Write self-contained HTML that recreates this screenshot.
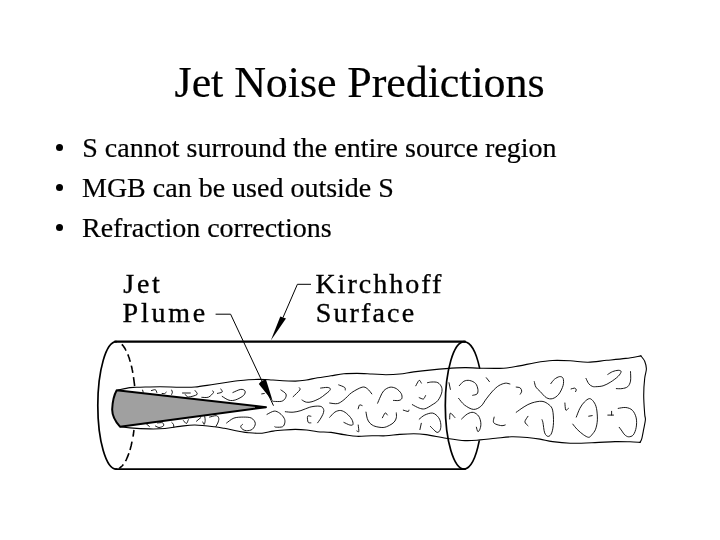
<!DOCTYPE html>
<html><head><meta charset="utf-8">
<style>
html,body{margin:0;padding:0;background:#fff;}
body{filter:grayscale(1);}
body{width:720px;height:540px;position:relative;overflow:hidden;font-family:"Liberation Serif",serif;color:#000;}
.t{position:absolute;white-space:nowrap;line-height:1;-webkit-text-stroke:0.2px #000;}
#title{left:174.6px;top:61.3px;font-size:44px;letter-spacing:-0.08px;}
.b{font-size:28px;}
.dot{position:absolute;width:7.2px;height:7.2px;border-radius:50%;background:#000;}
.lab{position:absolute;white-space:nowrap;line-height:1;font-size:28px;letter-spacing:2.4px;-webkit-text-stroke:0.35px #000;}
svg{position:absolute;left:0;top:0;}
</style></head>
<body>
<div class="t" id="title">Jet Noise Predictions</div>
<div class="dot" style="left:55.9px;top:143.7px"></div>
<div class="t b" style="left:82.3px;top:133.6px">S cannot surround the entire source region</div>
<div class="dot" style="left:55.9px;top:183.9px"></div>
<div class="t b" style="left:82px;top:174.2px">MGB can be used outside S</div>
<div class="dot" style="left:55.9px;top:223.9px"></div>
<div class="t b" style="left:82px;top:214.4px">Refraction corrections</div>

<div class="lab" style="left:123.3px;top:269.6px;letter-spacing:2.7px">Jet</div>
<div class="lab" style="left:122.6px;top:298.9px;letter-spacing:2.75px">Plume</div>
<div class="lab" style="left:315.4px;top:270px;letter-spacing:2.0px">Kirchhoff</div>
<div class="lab" style="left:315.7px;top:298.7px;letter-spacing:2.15px">Surface</div>

<svg width="720" height="540" viewBox="0 0 720 540">
<g fill="none" stroke="#000" stroke-linecap="round" stroke-linejoin="round">
<path stroke-width="1.1" d="M118.0,390.0 C120.0,389.6 126.3,388.1 130.0,387.6 C133.7,387.1 135.0,387.3 140.0,387.2 C145.0,387.1 153.3,386.8 160.0,386.8 C166.7,386.8 174.2,387.2 180.0,387.2 C185.8,387.2 189.3,387.5 195.0,387.0 C200.7,386.5 207.9,385.1 214.4,384.2 C220.9,383.2 228.2,382.1 233.9,381.3 C239.6,380.6 243.2,380.0 248.4,379.7 C253.6,379.4 260.9,379.4 265.0,379.5 C269.1,379.6 267.9,379.7 273.0,380.0 C278.1,380.3 289.7,381.1 295.3,381.1 C300.9,381.1 302.7,380.6 306.4,380.0 C310.1,379.4 313.5,378.5 317.6,377.8 C321.7,377.1 326.6,376.5 331.0,375.8 C335.4,375.1 339.6,374.2 343.9,373.8 C348.2,373.4 352.2,373.4 356.9,373.4 C361.6,373.4 367.2,373.8 372.0,374.0 C376.8,374.2 381.3,374.7 385.9,374.7 C390.5,374.7 395.2,374.5 399.8,374.0 C404.4,373.5 408.3,372.6 413.7,371.9 C419.1,371.2 426.6,370.4 432.0,369.9 C437.4,369.3 440.5,369.0 446.0,368.6 C451.5,368.2 459.3,367.7 465.0,367.6 C470.7,367.5 473.6,368.1 480.0,368.2 C486.4,368.3 497.0,368.6 503.6,368.2 C510.2,367.8 514.1,366.8 519.4,365.9 C524.6,365.0 529.6,363.6 535.1,362.7 C540.6,361.8 546.8,360.8 552.6,360.5 C558.5,360.2 564.3,360.5 570.2,360.8 C576.1,361.1 581.9,362.3 588.0,362.2 C594.1,362.1 600.6,360.9 606.9,360.3 C613.2,359.7 620.1,359.1 625.8,358.4 C631.5,357.7 638.4,356.3 640.9,355.9"/>
<path stroke-width="1.1" d="M120.0,426.7 C121.7,426.9 125.0,427.5 130.0,427.9 C135.0,428.3 144.2,428.8 150.0,428.9 C155.8,429.0 160.0,428.9 165.0,428.5 C170.0,428.1 175.0,427.0 180.0,426.4 C185.0,425.8 189.3,424.9 195.0,425.0 C200.7,425.1 209.5,426.2 214.4,426.8 C219.3,427.4 220.1,427.6 224.2,428.3 C228.2,429.0 234.7,430.5 238.7,431.2 C242.7,431.9 244.5,432.4 248.4,432.7 C252.3,433.0 257.9,433.5 262.0,433.2 C266.1,432.9 269.4,431.6 273.1,431.1 C276.8,430.6 280.5,430.3 284.2,430.0 C287.9,429.7 291.6,429.4 295.3,429.4 C299.0,429.4 302.7,429.6 306.4,430.0 C310.1,430.4 313.5,431.3 317.6,431.7 C321.7,432.1 326.6,431.9 331.0,432.4 C335.4,432.9 339.6,434.0 343.9,434.6 C348.2,435.2 352.2,436.1 356.9,436.3 C361.6,436.5 367.2,435.8 372.0,435.7 C376.8,435.6 381.3,436.0 385.9,435.8 C390.5,435.6 395.2,434.7 399.8,434.4 C404.4,434.1 409.3,433.8 413.7,433.8 C418.1,433.8 420.6,433.9 426.0,434.6 C431.4,435.3 439.5,437.2 446.0,438.2 C452.5,439.2 459.3,440.3 465.0,440.6 C470.7,440.9 474.9,440.3 480.0,439.9 C485.1,439.5 490.4,438.8 495.7,438.3 C500.9,437.8 506.2,436.9 511.5,436.8 C516.8,436.7 522.5,437.1 527.2,437.5 C532.0,437.9 535.8,438.4 540.0,439.1 C544.2,439.8 547.6,440.9 552.6,441.6 C557.6,442.3 563.1,443.0 570.2,443.2 C577.3,443.4 587.5,442.9 595.0,442.6 C602.5,442.3 609.2,441.7 615.0,441.6 C620.8,441.5 625.8,441.7 630.0,441.8 C634.2,441.9 638.3,442.3 640.0,442.4"/>
<path stroke-width="1.1" d="M640.9,355.9 C641.5,356.8 643.8,359.0 644.7,361.2 C645.6,363.4 646.4,366.0 646.4,368.8 C646.4,371.6 645.2,373.8 644.7,378.2 C644.2,382.6 643.7,389.2 643.7,395.2 C643.7,401.2 644.4,410.0 644.7,414.1 C645.0,418.2 645.6,417.3 645.4,419.8 C645.2,422.3 644.3,426.1 643.7,429.2 C643.1,432.3 642.4,436.5 641.8,438.7 C641.2,440.9 640.3,441.8 640.0,442.4"/>
</g>
<g fill="none" stroke="#000" stroke-width="0.9" stroke-linecap="round" stroke-linejoin="round">
<path d="M142.6,390.1 L143.2,392.2"/>
<path d="M151.4,390.6 C152.1,390.5 154.4,389.4 155.3,389.7 C156.2,390.0 156.6,392.0 156.8,392.5"/>
<path d="M162.1,393.4 C162.5,393.4 163.8,393.8 164.5,393.6 C165.2,393.4 165.9,392.4 166.2,392.2"/>
<path d="M171.6,390.1 C171.7,390.5 172.4,391.5 172.4,392.2 C172.4,392.9 171.7,394.0 171.6,394.4"/>
<path d="M182.5,393.0 L190.3,393.0"/>
<path d="M185.4,394.5 C185.9,394.9 186.4,397.0 188.3,397.0 C190.2,397.0 195.9,395.6 197.0,394.5 C198.1,393.4 195.3,391.2 195.0,390.6"/>
<path d="M201.8,397.3 C202.9,397.3 206.7,397.9 208.6,397.1 C210.5,396.3 212.8,393.5 213.5,392.5 C214.2,391.5 212.7,391.2 212.5,391.0"/>
<path d="M217.4,393.4 C218.2,393.2 221.6,392.7 222.2,392.0 C222.8,391.3 221.0,389.5 220.8,389.0"/>
<path d="M222.2,396.4 C223.3,397.0 226.7,399.6 229.0,400.2 C231.3,400.8 233.4,400.6 235.8,399.8 C238.2,399.0 242.1,396.9 243.6,395.4 C245.1,393.9 245.5,392.0 245.0,391.0 C244.5,390.0 242.7,389.1 240.7,389.4 C238.7,389.6 234.2,392.0 232.9,392.5"/>
<path d="M261.7,393.9 L264.3,393.5"/>
<path d="M146.5,424.0 L149.4,426.5"/>
<path d="M157.5,423.0 C158.3,423.0 161.5,422.3 162.5,422.8 C163.5,423.3 164.1,425.0 163.5,425.8 C162.9,426.6 160.3,427.5 159.0,427.5 C157.7,427.5 156.1,426.2 155.5,426.0"/>
<path d="M171.8,422.5 C172.1,422.8 173.2,423.7 173.5,424.5 C173.8,425.3 173.8,426.8 173.8,427.2"/>
<path d="M183.5,420.6 C184.0,421.1 185.6,423.6 186.4,423.5 C187.2,423.4 188.0,420.3 188.3,419.7"/>
<path d="M196.5,421.2 L200.8,417.6"/>
<path d="M202.8,422.0 C203.0,422.4 203.8,424.6 204.2,424.4 C204.6,424.1 205.1,421.8 205.2,420.5 C205.3,419.2 204.8,417.2 204.7,416.6"/>
<path d="M209.6,417.1 C210.7,416.9 214.9,415.4 216.4,415.7 C217.9,415.9 218.6,417.4 218.8,418.6 C219.0,419.8 218.3,421.7 217.8,423.0 C217.3,424.3 216.2,425.8 215.9,426.4"/>
<path d="M226.6,423.0 C227.8,422.2 231.1,419.1 233.9,418.1 C236.7,417.1 240.7,417.1 243.6,417.1 C246.5,417.1 249.4,417.1 251.4,418.1 C253.4,419.2 255.2,421.5 255.3,423.4 C255.5,425.3 253.8,428.1 252.3,429.3 C250.8,430.5 248.1,430.7 246.5,430.7 C244.9,430.7 243.6,430.0 242.6,429.3 C241.6,428.6 240.7,427.2 240.7,426.4 C240.7,425.6 242.3,424.7 242.6,424.4"/>
<path d="M280.9,390.0 C281.7,390.6 285.2,392.5 285.9,393.9 C286.6,395.3 286.0,397.1 285.3,398.3 C284.6,399.5 283.4,400.8 281.5,401.3 C279.6,401.8 275.7,401.4 274.2,401.4 C272.7,401.4 272.9,401.2 272.6,401.1"/>
<path d="M293.1,396.7 C294.2,395.6 298.8,391.5 299.8,390.0 C300.8,388.5 299.3,388.2 299.2,387.8"/>
<path d="M302.0,400.0 C302.7,400.4 304.7,401.9 306.4,402.2 C308.1,402.5 309.8,402.3 312.0,401.7 C314.2,401.1 317.6,399.5 319.8,398.3 C322.0,397.1 323.5,395.7 325.0,394.5 C326.5,393.3 328.1,392.3 329.0,391.3 C329.9,390.3 330.6,389.4 330.3,388.7 C330.0,388.0 328.7,387.5 327.1,387.4 C325.5,387.3 321.7,388.0 320.6,388.1"/>
<path d="M285.3,411.7 C286.6,411.8 290.5,412.4 293.1,412.2 C295.7,412.0 298.1,411.4 300.9,410.6 C303.7,409.8 307.0,407.9 309.8,407.2 C312.6,406.4 315.6,406.1 317.6,406.1 C319.6,406.1 321.0,406.3 322.0,407.0 C323.0,407.7 323.7,409.2 323.8,410.5 C323.9,411.8 323.4,413.0 322.8,414.5 C322.2,416.0 320.9,418.1 320.0,419.5 C319.1,420.9 318.0,422.2 317.6,422.8"/>
<path d="M267.0,414.4 C268.2,413.8 272.1,411.3 274.2,411.1 C276.3,410.9 278.1,412.1 279.8,413.3 C281.5,414.5 283.4,416.7 284.2,418.3 C285.0,419.9 285.1,421.4 284.8,422.8 C284.5,424.2 284.0,426.0 282.6,426.7 C281.2,427.4 277.7,427.2 276.4,427.2 C275.1,427.2 275.1,426.8 274.8,426.7"/>
<path d="M310.9,416.3 C310.3,416.3 308.1,415.3 307.6,416.3 C307.1,417.3 307.6,421.1 308.1,422.2 C308.7,423.3 310.4,422.7 310.9,422.8"/>
<path d="M338.7,384.9 C339.7,385.3 343.5,386.5 344.6,387.4 C345.7,388.2 345.1,389.6 345.2,390.0"/>
<path d="M329.7,403.0 C331.0,403.1 335.0,404.1 337.4,403.6 C339.8,403.1 341.5,401.6 343.9,399.8 C346.3,398.0 348.7,394.7 351.7,392.6 C354.7,390.5 359.5,387.9 362.1,387.2 C364.7,386.5 365.7,387.6 367.3,388.7 C368.9,389.8 371.1,393.0 371.8,393.9"/>
<path d="M329.7,417.3 C330.6,416.4 333.1,413.2 334.9,412.1 C336.7,411.0 338.8,410.3 340.7,410.5 C342.6,410.7 344.7,411.9 346.5,413.4 C348.3,414.8 350.6,417.4 351.7,419.2 C352.8,421.0 353.3,423.4 353.0,424.4 C352.7,425.4 351.3,425.3 349.8,425.0 C348.3,424.7 344.9,422.8 343.9,422.4"/>
<path d="M358.2,425.0 C358.3,426.1 359.0,430.5 358.8,431.5 C358.6,432.5 357.2,431.0 356.9,430.9"/>
<path d="M358.2,408.8 C358.4,408.2 358.9,405.5 359.5,405.0 C360.1,404.5 361.7,405.5 362.1,405.6"/>
<path d="M366.0,412.1 C366.2,413.2 366.7,416.8 367.3,418.6 C367.9,420.4 368.6,421.8 369.9,423.1 C371.2,424.4 372.8,425.6 375.0,426.3 C377.2,427.0 380.7,427.6 383.1,427.5 C385.5,427.4 387.5,426.3 389.4,425.4 C391.2,424.5 393.0,423.3 394.2,422.0 C395.4,420.7 395.9,419.3 396.3,417.8 C396.7,416.3 396.3,413.7 396.3,412.9"/>
<path d="M377.6,403.2 C378.1,402.1 379.3,399.0 380.3,396.9 C381.3,394.8 382.2,392.3 383.8,390.7 C385.4,389.1 388.0,387.5 390.1,387.2 C392.2,386.9 394.5,387.6 396.3,388.6 C398.1,389.7 400.3,391.9 401.2,393.5 C402.1,395.1 402.2,397.2 401.9,398.3 C401.5,399.4 400.5,400.0 399.1,400.4 C397.7,400.8 394.4,400.4 393.5,400.4"/>
<path d="M382.4,417.8 C382.9,417.0 384.4,413.4 385.2,412.9 C386.0,412.4 386.9,414.6 387.3,415.0"/>
<path d="M403.3,410.1 C404.1,410.3 407.2,411.5 408.1,411.5 C409.0,411.5 408.7,410.3 408.8,410.1"/>
<path d="M415.8,385.8 C416.3,384.9 418.3,380.8 419.2,380.3 C420.1,379.9 420.9,382.6 421.3,383.1"/>
<path d="M419.2,397.6 C419.9,397.8 422.3,399.3 423.4,399.0 C424.4,398.7 425.1,396.2 425.5,395.6"/>
<path d="M412.3,404.6 C413.4,405.2 417.1,407.4 419.2,408.1 C421.3,408.8 422.7,409.3 424.8,408.8 C426.9,408.3 429.7,406.4 431.9,405.0 C434.1,403.6 436.3,402.5 437.9,400.5 C439.5,398.5 441.0,395.3 441.6,393.1 C442.2,390.9 442.2,388.9 441.6,387.2 C441.0,385.5 439.5,383.6 437.9,382.7 C436.3,381.8 433.6,382.0 431.9,382.0 C430.2,382.0 428.2,382.6 427.5,382.7"/>
<path d="M419.2,419.2 C420.1,418.5 422.6,416.0 424.8,415.0 C427.1,414.0 430.4,412.7 432.7,413.1 C435.0,413.5 437.2,415.8 438.6,417.6 C440.0,419.5 440.6,422.1 440.8,424.2 C441.1,426.3 440.7,428.7 440.1,430.1 C439.5,431.5 438.3,432.6 437.1,432.4 C435.9,432.2 433.8,429.7 432.7,428.7 C431.6,427.7 430.8,426.8 430.4,426.4"/>
<path d="M421.3,423.3 L419.9,429.6"/>
<path d="M449.0,382.7 L450.4,389.4"/>
<path d="M459.3,385.7 C460.1,385.0 462.1,382.2 463.8,381.3 C465.5,380.4 467.7,380.1 469.7,380.5 C471.7,380.9 474.2,382.0 475.6,383.5 C477.0,385.0 477.6,387.7 477.9,389.4 C478.1,391.1 478.0,392.9 477.1,393.9 C476.2,394.9 473.4,395.1 472.7,395.3"/>
<path d="M458.6,398.3 C459.6,399.4 462.0,403.1 464.5,405.0 C467.0,406.9 470.7,409.2 473.4,409.4 C476.1,409.6 478.6,408.1 480.8,406.4 C483.0,404.6 484.3,401.4 486.3,398.9 C488.3,396.3 490.5,393.3 492.6,391.1 C494.7,388.9 496.8,386.9 498.9,385.6 C501.0,384.3 503.4,383.5 505.2,383.2 C507.0,382.9 509.1,383.9 509.9,384.0"/>
<path d="M449.7,419.0 C449.8,418.0 449.5,413.3 450.4,413.1 C451.3,412.9 454.1,416.9 454.9,417.6"/>
<path d="M461.6,419.0 C462.6,418.1 465.5,415.0 467.5,413.9 C469.5,412.8 471.5,412.0 473.4,412.4 C475.2,412.8 477.4,414.4 478.6,416.1 C479.8,417.8 480.6,420.6 480.8,422.7 C481.1,424.8 480.6,427.2 480.1,428.7 C479.6,430.2 478.5,431.9 477.9,431.6 C477.3,431.4 476.6,427.9 476.4,427.2"/>
<path d="M516.2,387.1 C516.9,387.2 519.3,387.2 520.2,387.9 C521.1,388.6 521.7,390.1 521.7,391.1 C521.7,392.2 520.5,393.7 520.2,394.2"/>
<path d="M486.3,377.7 L489.4,381.6"/>
<path d="M494.2,417.1 C494.1,417.9 493.1,420.6 493.4,421.8 C493.6,423.0 494.3,423.5 495.7,424.1 C497.1,424.8 500.4,425.6 502.0,425.7 C503.6,425.8 504.7,425.0 505.2,424.9"/>
<path d="M516.2,412.3 C517.5,411.4 521.5,408.4 524.1,406.8 C526.7,405.2 529.0,403.8 532.0,402.9 C535.0,402.0 539.1,401.0 542.0,401.3 C544.9,401.6 547.3,403.3 549.1,404.8 C550.9,406.3 551.9,407.2 552.6,410.1 C553.3,413.0 553.6,418.6 553.5,422.4 C553.4,426.2 552.6,430.6 551.7,432.9 C550.8,435.2 549.4,436.4 548.2,436.4 C547.0,436.4 545.6,435.2 544.7,432.9 C543.8,430.6 543.4,424.6 542.9,422.4 C542.4,420.2 542.1,420.1 542.0,419.7"/>
<path d="M528.0,416.3 C527.5,417.2 524.9,420.2 524.9,421.8 C524.9,423.4 527.5,425.1 528.0,425.7"/>
<path d="M534.3,381.6 C534.6,382.5 534.9,385.4 535.9,387.1 C536.9,388.8 538.5,389.8 540.3,391.6 C542.0,393.4 544.3,396.5 546.4,397.7 C548.5,398.9 550.5,399.2 552.6,398.6 C554.7,398.0 557.0,396.4 558.8,394.2 C560.5,392.0 562.4,388.0 563.1,385.4 C563.8,382.8 563.7,379.9 563.1,378.4 C562.5,376.9 561.1,376.5 559.6,376.6 C558.1,376.8 555.9,378.1 554.4,379.3 C552.9,380.5 551.4,383.0 550.8,383.7"/>
<path d="M571.1,389.0 C571.7,388.9 573.7,388.0 574.6,388.1 C575.5,388.2 576.1,389.2 576.3,389.8 C576.4,390.4 575.6,391.3 575.5,391.6"/>
<path d="M564.9,403.0 C565.0,404.2 565.2,409.2 565.8,410.1 C566.4,411.0 568.0,408.6 568.4,408.3"/>
<path d="M576.3,417.1 C576.9,415.6 578.6,410.8 579.9,408.3 C581.2,405.8 582.7,403.7 584.3,402.1 C585.9,400.5 587.9,398.7 589.5,398.6 C591.1,398.6 592.5,400.2 593.7,401.8 C594.9,403.4 595.9,405.4 596.5,408.4 C597.1,411.4 597.5,416.3 597.4,419.8 C597.2,423.3 596.5,426.7 595.6,429.2 C594.7,431.7 592.9,433.5 591.8,434.9 C590.6,436.2 590.1,437.3 588.7,437.3 C587.3,437.3 585.3,436.0 583.4,434.7 C581.5,433.4 579.0,431.2 577.2,429.4 C575.4,427.6 573.5,425.0 572.8,424.1"/>
<path d="M588.7,416.2 L592.2,415.6"/>
<path d="M586.0,378.4 C586.5,379.3 587.7,382.4 588.7,383.7 C589.7,385.0 591.1,385.8 592.2,386.3 C593.4,386.8 593.8,386.8 595.6,386.7 C597.4,386.6 600.6,386.6 603.1,385.8 C605.6,385.0 608.2,383.6 610.7,382.0 C613.2,380.4 616.5,378.0 618.2,376.3 C619.9,374.6 621.1,372.6 621.1,371.6 C621.1,370.6 619.6,370.3 618.2,370.3 C616.8,370.3 614.3,370.9 612.6,371.6 C610.9,372.3 608.6,373.9 607.8,374.4"/>
<path d="M630.5,371.6 C630.5,373.2 631.0,378.6 630.5,381.1 C630.0,383.6 629.1,385.4 627.7,386.7 C626.3,387.9 623.9,388.3 622.0,388.6 C620.1,388.9 617.2,388.6 616.3,388.6"/>
<path d="M607.8,415.1 L613.5,415.1"/>
<path d="M611.6,411.3 L611.6,415.0"/>
<path d="M618.2,408.4 C619.5,408.2 623.4,407.2 625.8,407.5 C628.2,407.8 630.7,408.6 632.4,410.3 C634.1,412.0 635.6,415.1 636.2,417.9 C636.8,420.7 636.7,424.5 636.2,427.3 C635.7,430.1 634.6,433.3 633.3,434.9 C632.0,436.5 630.0,436.8 628.6,436.8 C627.2,436.8 625.9,435.8 624.8,434.9 C623.7,433.9 622.9,432.4 622.0,431.1 C621.1,429.8 619.7,427.9 619.2,427.3"/>
</g>
<g fill="none" stroke="#000" stroke-linecap="round" stroke-linejoin="round">
<path stroke-width="2.2" d="M115,341.7 L465,341.7"/>
<path stroke-width="1.7" d="M116,469.2 L465,469.2"/>
<path stroke-width="1.7" d="M116.3,341.7 A18.5,63.75 0 0 0 116.3,469.2"/>
<path stroke-width="1.6" stroke-linecap="butt" d="M121.8,344.4 L122.8,345.4 L123.6,346.5 L124.3,347.5 L125.0,348.5 L125.5,349.6 L126.1,350.6 M127.8,354.4 L128.3,355.6 L128.7,356.8 L129.2,358.0 L129.5,359.3 L129.9,360.5 L130.3,361.7 M131.3,365.6 L131.6,366.8 L131.9,368.0 L132.1,369.2 L132.4,370.4 L132.6,371.6 L132.8,372.8 M133.5,377.2 L133.7,378.7 L133.9,380.2 L134.1,381.6 L134.3,383.1 L134.5,384.6 L134.6,386.1 M134.0,430.0 L133.8,431.1 L133.7,432.2 L133.5,433.4 L133.4,434.5 L133.2,435.6 L133.0,436.7 M132.0,441.7 L131.7,443.1 L131.4,444.5 L131.1,445.9 L130.7,447.2 L130.4,448.6 L130.0,450.0 M128.9,453.3 L128.4,454.6 L127.9,455.9 L127.4,457.2 L126.8,458.5 L126.2,459.8 L125.5,461.1 M123.4,464.4 L122.9,465.0 L122.3,465.7 L121.7,466.3 L121.0,466.9 L120.2,467.6 L119.1,468.2"/>
<path stroke-width="1.7" d="M464.3,341.7 A19,63.75 0 0 0 464.3,469.2"/>
<path stroke-width="1.6" d="M464.3,341.7 A19,63.75 0 0 1 479.6,368.0 M479.2,441.0 A19,63.75 0 0 1 464.3,469.2"/>
</g>
<path fill="#a0a0a0" stroke="#000" stroke-width="2" stroke-linejoin="round" d="M116.7,390.2 L266,407.2 L120,426.7 C115,421 112,414 112.2,409 C112.5,402 114,395 116.7,390.2 Z"/>
<path fill="#000" d="M255,405.7 L267,407.1 L255,408.8 Z"/>
<g fill="none" stroke="#000" stroke-width="1">
<path d="M215.6,314.2 L230.6,314.2 L273.5,405.7"/>
<path d="M311,284.3 L297.4,284.3 L283,317.5"/>
</g>
<path fill="#000" d="M258.8,384 C261,381 263,380 266,379.5 L272.8,401.6 Z"/>
<path fill="#000" d="M280.3,316.5 L286,318.4 L270.8,340.5 Z"/>
</svg>
</body></html>
